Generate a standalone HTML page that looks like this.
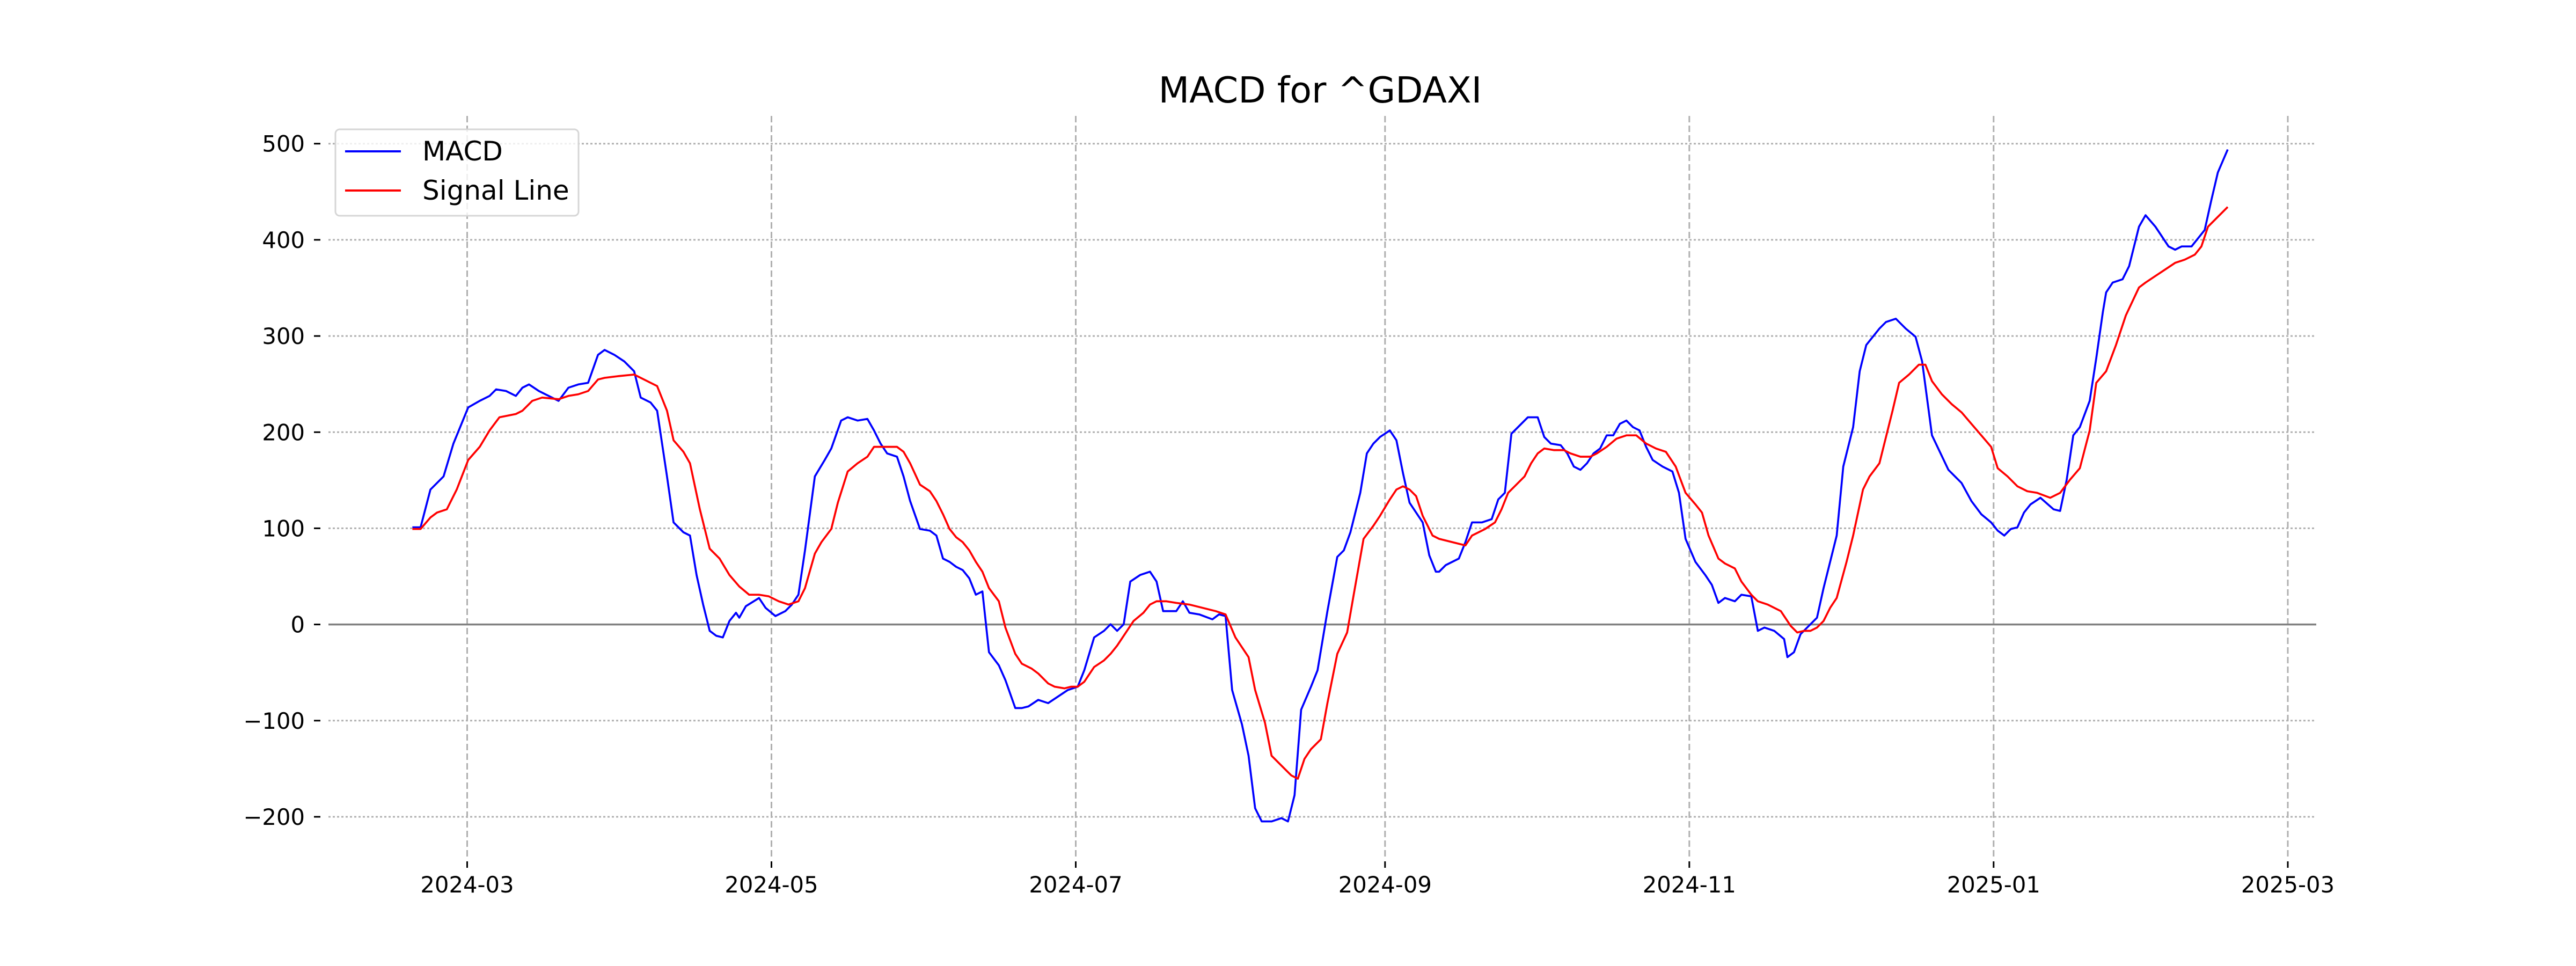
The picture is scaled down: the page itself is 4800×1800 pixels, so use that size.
<!DOCTYPE html>
<html><head><meta charset="utf-8"><style>html,body{margin:0;padding:0;background:#fff}svg{display:block}</style></head><body>
<svg width="4800" height="1800" viewBox="0 0 4800 1800" xmlns="http://www.w3.org/2000/svg" font-family="DejaVu Sans, Liberation Sans, sans-serif">
<rect width="4800" height="1800" fill="#fff"/>
<g stroke="#b0b0b0" stroke-width="3" stroke-dasharray="4,4">
<line x1="612" x2="4316" y1="267.7" y2="267.7"/><line x1="612" x2="4316" y1="446.9" y2="446.9"/><line x1="612" x2="4316" y1="626.1" y2="626.1"/><line x1="612" x2="4316" y1="805.3" y2="805.3"/><line x1="612" x2="4316" y1="984.4" y2="984.4"/><line x1="612" x2="4316" y1="1342.8" y2="1342.8"/><line x1="612" x2="4316" y1="1522" y2="1522"/>
</g>
<g stroke="#b0b0b0" stroke-width="3" stroke-dasharray="12,6">
<line x1="870.5" x2="870.5" y1="216" y2="1600"/><line x1="1437.5" x2="1437.5" y1="216" y2="1600"/><line x1="2004.5" x2="2004.5" y1="216" y2="1600"/><line x1="2580.8" x2="2580.8" y1="216" y2="1600"/><line x1="3147.8" x2="3147.8" y1="216" y2="1600"/><line x1="3714.8" x2="3714.8" y1="216" y2="1600"/><line x1="4263" x2="4263" y1="216" y2="1600"/>
</g>
<line x1="612" x2="4316" y1="1163.6" y2="1163.6" stroke="#808080" stroke-width="3.5"/>
<g stroke="#000" stroke-width="3">
<line x1="585" x2="597" y1="267.7" y2="267.7"/><line x1="585" x2="597" y1="446.9" y2="446.9"/><line x1="585" x2="597" y1="626.1" y2="626.1"/><line x1="585" x2="597" y1="805.3" y2="805.3"/><line x1="585" x2="597" y1="984.4" y2="984.4"/><line x1="585" x2="597" y1="1163.6" y2="1163.6"/><line x1="585" x2="597" y1="1342.8" y2="1342.8"/><line x1="585" x2="597" y1="1522" y2="1522"/>
<line x1="870.5" x2="870.5" y1="1605" y2="1617"/><line x1="1437.5" x2="1437.5" y1="1605" y2="1617"/><line x1="2004.5" x2="2004.5" y1="1605" y2="1617"/><line x1="2580.8" x2="2580.8" y1="1605" y2="1617"/><line x1="3147.8" x2="3147.8" y1="1605" y2="1617"/><line x1="3714.8" x2="3714.8" y1="1605" y2="1617"/><line x1="4263" x2="4263" y1="1605" y2="1617"/>
</g>
<g font-size="41.7" fill="#000" text-anchor="end">
<text x="568" y="282.7">500</text><text x="568" y="461.9">400</text><text x="568" y="641.1">300</text><text x="568" y="820.3">200</text><text x="568" y="999.4">100</text><text x="568" y="1178.6">0</text><text x="568" y="1357.8">−100</text><text x="568" y="1537">−200</text>
</g>
<g font-size="41.7" fill="#000" text-anchor="middle">
<text x="870.5" y="1663">2024-03</text><text x="1437.5" y="1663">2024-05</text><text x="2004.5" y="1663">2024-07</text><text x="2580.8" y="1663">2024-09</text><text x="3147.8" y="1663">2024-11</text><text x="3714.8" y="1663">2025-01</text><text x="4263" y="1663">2025-03</text>
</g>
<text x="2460" y="191" font-size="66.7" text-anchor="middle" fill="#000">MACD for ^GDAXI</text>
<g transform="scale(3.0612)" fill="none" stroke-linejoin="round" stroke-width="1.2">
<polyline stroke="#0000ff" points="251,321 256,321 262,298 270,290 276,270 285,248 292,244 298,241 302,237 308,238 314,241 318,236 322,234 328,238 334,241 340,244 346,236 352,234 358,233 364,216 368,213 374,216 380,220 386,226 390,242 396,245 400,250 406,290 410,318 416,324 420,326 424,350 428,368 432,384 436,387 440,388 444,378 448,373 450,376 454,369 462,364 466,370 472,375 478,372 482,368 486,362 490,335 496,290 502,280 506,273 512,256 516,254 522,256 528,255 532,262 536,270 540,276 546,278 550,290 554,305 560,322 566,323 570,326 574,340 578,342 582,345 586,347 590,352 594,362 598,360 602,397 608,405 612,414 618,431 622,431 626,430 632,426 638,428 644,424 650,420 656,418 660,408 666,388 672,384 676,380 680,384 684,380 688,354 694,350 700,348 704,354 708,372 716,372 720,366 724,373 730,374 738,377 742,374 746,375 750,420 756,441 760,460 764,492 768,500 774,500 780,498 784,500 788,484 792,432 798,418 802,408 808,372 814,339 818,335 822,324 828,300 832,276 836,270 840,266 846,262 850,268 854,288 858,306 862,312 866,318 870,338 874,348 876,348 880,344 888,340 892,330 896,318 902,318 908,316 912,304 916,300 920,264 926,258 930,254 936,254 940,266 944,270 950,271 954,276 958,284 962,286 966,282 970,276 974,273 978,265 982,265 986,258 990,256 994,260 998,262 1002,272 1006,280 1012,284 1018,287 1022,300 1026,328 1032,342 1038,350 1042,356 1046,367 1050,364 1056,366 1060,362 1066,363 1070,384 1074,382 1080,384 1086,389 1088,400 1092,397 1096,386 1102,380 1106,376 1110,358 1118,326 1122,284 1128,260 1132,226 1136,210 1144,200 1148,196 1154,194 1160,200 1166,205 1170,220 1176,265 1186,286 1194,294 1200,305 1206,313 1212,318 1216,323 1220,326 1224,322 1228,321 1232,312 1236,307 1242,303 1250,310 1254,311 1258,292 1262,265 1266,260 1272,244 1276,218 1280,190 1282,178 1286,172 1292,170 1296,162 1302,138 1306,131 1312,138 1316,144 1320,150 1324,152 1328,150 1334,150 1338,145 1342,140 1346,122 1350,105 1356,91"/>
<polyline stroke="#ff0000" points="251,322 256,322 262,315 266,312 272,310 278,298 285,280 292,272 298,262 304,254 314,252 318,250 324,244 330,242 340,243 346,241 352,240 358,238 364,231 368,230 376,229 386,228 392,231 400,235 406,250 410,268 416,275 420,282 426,310 432,334 438,340 444,350 450,357 456,362 462,362 468,363 474,366 480,368 486,366 490,358 496,337 500,330 506,322 510,306 516,287 522,282 528,278 532,272 538,272 546,272 550,275 554,282 560,295 566,299 570,305 574,313 578,322 582,327 586,330 590,335 594,342 598,348 602,358 608,366 612,382 618,398 622,404 628,407 632,410 638,416 642,418 648,419 652,418 656,418 660,415 666,406 672,402 676,398 680,393 686,384 690,378 696,373 700,368 704,366 710,366 716,367 724,368 732,370 740,372 746,374 752,388 756,394 760,400 764,420 770,440 774,460 778,464 782,468 786,472 790,474 794,462 798,456 804,450 808,428 814,398 820,385 824,362 830,328 836,320 840,314 846,304 850,298 854,296 858,298 862,302 866,314 872,326 876,328 884,330 892,332 896,326 904,322 910,318 914,310 918,300 922,296 928,290 932,282 936,276 940,273 946,274 952,274 956,276 962,278 968,278 972,276 978,272 984,267 990,265 996,265 1002,270 1008,273 1014,275 1020,284 1026,300 1032,307 1036,312 1040,326 1046,340 1050,343 1056,346 1060,354 1066,362 1070,366 1076,368 1080,370 1084,372 1090,381 1094,385 1098,384 1102,384 1106,382 1110,378 1114,370 1118,364 1124,342 1128,326 1134,298 1138,290 1144,282 1148,266 1152,250 1156,233 1162,228 1168,222 1172,222 1176,232 1182,240 1188,246 1194,251 1200,258 1206,265 1212,272 1216,285 1222,290 1228,296 1234,299 1240,300 1248,303 1254,300 1260,292 1266,285 1272,262 1276,233 1282,226 1288,210 1294,192 1302,175 1306,172 1312,168 1318,164 1324,160 1330,158 1336,155 1340,150 1344,138 1350,132 1356,126"/>
</g>
<rect x="625" y="241" width="453" height="161" rx="8" fill="#fff" fill-opacity="0.8" stroke="#d6d6d6" stroke-width="3"/>
<line x1="643" x2="747" y1="282" y2="282" stroke="#0000ff" stroke-width="4"/>
<line x1="643" x2="747" y1="355" y2="355" stroke="#ff0000" stroke-width="4"/>
<text x="787" y="299" font-size="50" fill="#000">MACD</text>
<text x="787" y="372" font-size="50" fill="#000">Signal Line</text>
</svg>
</body></html>
